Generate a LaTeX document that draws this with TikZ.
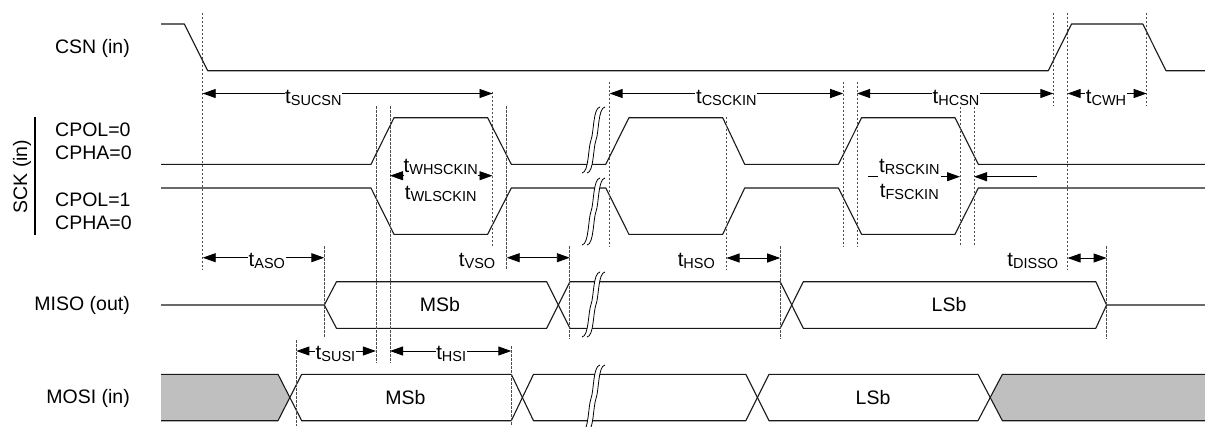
\documentclass[tikz,border=0pt]{standalone}
\usepackage{fontspec}
\setmainfont{Liberation Sans}
\usetikzlibrary{arrows.meta}
\newcommand\tlab[1]{t\raisebox{-2pt}{\fontsize{14.5}{15}\selectfont #1}}
\begin{document}
\begin{tikzpicture}[x=1pt,y=-1pt,
  sig/.style={line width=1.1pt, black!90, line join=round},
  guide/.style={line width=0.7pt, black!70, dash pattern=on 2.5pt off 1.5pt},
  dim/.style={line width=0.9pt, {Triangle[length=13pt,width=9pt]}-{Triangle[length=13pt,width=9pt]}},
  rdim/.style={line width=0.9pt, -{Triangle[length=13pt,width=9pt]}},
  tlbl/.style={font=\fontsize{20.5}{22}\selectfont, fill=white, inner sep=0.6pt, anchor=base},
  sname/.style={font=\fontsize{19.5}{22}\selectfont, inner sep=0pt},
  brkline/.style={line width=0.8pt, black}]
\useasboundingbox (0,0) rectangle (1205,426);

% ---------------- signals ----------------
% CSN
\draw[sig] (161,24) -- (184.3,24) -- (207.7,70.7) -- (1048.3,70.7) -- (1071.5,24)
  -- (1142.8,24) -- (1166,70.7) -- (1205,70.7);
% SCK CPOL=0
\draw[sig] (161,164.3) -- (371,164.3) -- (394,117.7) -- (487.6,117.7) -- (511.3,164.3)
  -- (605.8,164.3) -- (628.9,117.7) -- (722.7,117.7) -- (744.7,164.3) -- (838.4,164.3)
  -- (861.6,117.7) -- (955,117.7) -- (978.3,164.3) -- (1205,164.3);
% SCK CPOL=1
\draw[sig] (161,188) -- (371,188) -- (394,234.3) -- (487.6,234.3) -- (511.3,188)
  -- (605.8,188) -- (628.9,234.3) -- (722.7,234.3) -- (744.7,188) -- (838.4,188)
  -- (861.6,234.3) -- (955,234.3) -- (978.3,188) -- (1205,188);
% MISO
\draw[sig] (161,305) -- (324.3,305) -- (336.5,281.7) -- (546.7,281.7) -- (570,328.3)
  -- (780.2,328.3) -- (803.3,281.7) -- (1095.8,281.7) -- (1106.6,305) -- (1205,305);
\draw[sig] (324.3,305) -- (336.5,328.3) -- (546.7,328.3) -- (570,281.7)
  -- (780.2,281.7) -- (803.3,328.3) -- (1095.8,328.3) -- (1106.6,305);
% MOSI
\fill[black!25] (161,374.3) -- (278,374.3) -- (290,397.5) -- (278,420.7) -- (161,420.7) -- cycle;
\fill[black!25] (990.2,397.5) -- (1002.4,374.3) -- (1205,374.3) -- (1205,420.7) -- (1002.4,420.7) -- cycle;
\draw[sig] (161,374.3) -- (278,374.3) -- (301.7,420.7) -- (511.3,420.7) -- (533.5,374.3)
  -- (745.8,374.3) -- (769,420.7) -- (978,420.7) -- (1002.4,374.3) -- (1205,374.3);
\draw[sig] (161,420.7) -- (278,420.7) -- (301.7,374.3) -- (511.3,374.3) -- (533.5,420.7)
  -- (745.8,420.7) -- (769,374.3) -- (978,374.3) -- (1002.4,420.7) -- (1205,420.7);

% ---------------- break marks ----------------
\foreach \yt/\yb [evaluate=\yt as \ym using (\yt+\yb)/2] in {107/173, 178/245, 272/337, 365/432} {
  \fill[white] (582,\yb) .. controls (589,{\yb-1}) and (588,{\ym+8}) .. (591,\ym)
     .. controls (594,{\ym-8}) and (593,{\yt+1}) .. (600,\yt) -- (605,\yt)
     .. controls (598,{\yt+1}) and (599,{\ym-8}) .. (596,\ym)
     .. controls (593,{\ym+8}) and (594,{\yb-1}) .. (587,\yb) -- cycle;
  \draw[brkline] (582,\yb) .. controls (589,{\yb-1}) and (588,{\ym+8}) .. (591,\ym)
     .. controls (594,{\ym-8}) and (593,{\yt+1}) .. (600,\yt);
  \draw[brkline] (587,\yb) .. controls (594,{\yb-1}) and (593,{\ym+8}) .. (596,\ym)
     .. controls (599,{\ym-8}) and (598,{\yt+1}) .. (605,\yt);
}

% ---------------- guide lines ----------------
\foreach \gx/\ga/\gb in {202.7/12.7/269.3, 375.9/106/363.3, 390/106/363.3, 492.5/91.7/246,
  506.7/106/269.3, 324.3/246/336.7, 569.8/246/338.3, 296.4/340/426, 511.3/346/426,
  609.6/81.7/246.7, 726.5/116.7/270, 843.2/81.7/246.7, 857/81.7/246.7, 960/106.7/246.7,
  974/106.7/246.7, 1053.3/12.7/106, 1067.6/12.7/270, 1146.7/12.7/106, 780.2/246/339.3,
  1106.6/246/339.3}
  \draw[guide] (\gx,\ga) -- (\gx,\gb);

% ---------------- dimension arrows ----------------
\draw[dim] (202.7,93.5) -- (492.5,93.5);
\draw[dim] (609.6,93.5) -- (843.2,93.5);
\draw[dim] (857,93.5) -- (1053.3,93.5);
\draw[dim] (1067.6,93.5) -- (1146.7,93.5);
\draw[rdim] (403,175.7) -- (390,175.7);
\draw[rdim] (478,175.7) -- (492.5,175.7);
\draw[line width=0.9pt] (868,176.7) -- (878,176.7);
\draw[rdim] (941,176.7) -- (960,176.7);
\draw[rdim] (1036.7,176.7) -- (974,176.7);
\draw[dim] (202.7,257.7) -- (324.3,257.7);
\draw[dim] (506.7,257.7) -- (569.8,257.7);
\draw[dim] (726.5,258) -- (780.2,258);
\draw[dim] (1067.6,258) -- (1106.6,258);
\draw[dim] (296.4,351) -- (375.9,351);
\draw[dim] (390,351) -- (511.3,351);

% ---------------- timing labels ----------------
\node[tlbl] (tsucsn) at (313.4,103) {\tlab{SUCSN}};
\node[tlbl] (tcsckin) at (726.3,103) {\tlab{CSCKIN}};
\node[tlbl] (thcsn) at (956,103) {\tlab{HCSN}};
\node[tlbl] (tcwh) at (1106,103) {\tlab{CWH}};
\node[tlbl, fill=none] (twh) at (440.7,172.5) {\tlab{WHSCKIN}};
\node[tlbl, fill=none] (twl) at (440.7,199) {\tlab{WLSCKIN}};
\node[tlbl, fill=none] (trs) at (909.3,172) {\tlab{RSCKIN}};
\node[tlbl, fill=none] (tfs) at (909.3,197) {\tlab{FSCKIN}};
\node[tlbl] (taso) at (266.8,266) {\tlab{ASO}};
\node[tlbl, fill=none, anchor=base east] (tvso) at (496,266) {\tlab{VSO}};
\node[tlbl, fill=none, anchor=base east] (thso) at (715.7,266) {\tlab{HSO}};
\node[tlbl, fill=none, anchor=base east] (tdisso) at (1059,266) {\tlab{DISSO}};
\node[tlbl] (tsusi) at (335.5,359) {\tlab{SUSI}};
\node[tlbl] (thsi) at (451.2,359) {\tlab{HSI}};

% ---------------- signal names ----------------
\node[sname, anchor=east] (csn) at (130,48.3) {CSN (in)};
\node[sname, anchor=west] (cpol0) at (55,129.3) {CPOL=0};
\node[sname, anchor=west] (cpha0a) at (55,152.7) {CPHA=0};
\node[sname, anchor=west] (cpol1) at (55,199.3) {CPOL=1};
\node[sname, anchor=west] (cpha0b) at (55,222.7) {CPHA=0};
\node[sname, rotate=90] (sck) at (22,176.5) {SCK (in)};
\draw[line width=1.3pt] (35,117.3) -- (35,235);
\node[sname, anchor=east] (miso) at (130,305) {MISO (out)};
\node[sname, anchor=east] (mosi) at (130,398) {MOSI (in)};
\node[sname] (misomsb) at (439.8,305) {MSb};
\node[sname] (misolsb) at (949,305) {LSb};
\node[sname] (mosimsb) at (405.4,398) {MSb};
\node[sname] (mosilsb) at (873,398) {LSb};
\end{tikzpicture}
\end{document}
